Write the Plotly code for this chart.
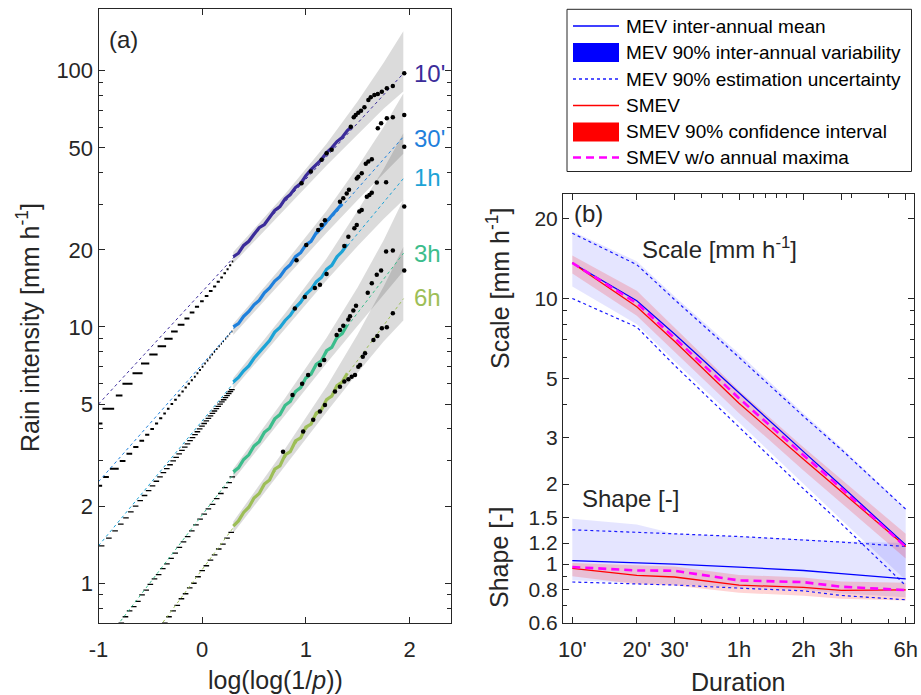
import plotly.graph_objects as go

W, H = 921, 695
def px(x): return x / W
def py(y): return 1 - y / H

AX = '#262626'
FONT = 'Liberation Sans, Arial, sans-serif'

# ================= Panel (a) data =================
dur_labels_a = ["10'", "30'", "1h", "3h", "6h"]
colors_a = ['#3b2c9a', '#1f80dc', '#1ca3d6', '#3cbd8c', '#9dbe57']

# fitted Weibull lines (dashed), endpoints
fit_x = [-1.0, 1.942]
fit_10 = [5.0, 97.7]
fit_30 = [2.49, 55.3]
fit_1h = [1.40, 38.0]
fit_3h = [0.55, 19.4]
fit_6h = [0.323, 12.9]

# confidence bands (grey)
band_x = [0.3, 0.8, 1.2, 1.5, 1.75, 1.94]
band_10_lo = [17.7, 28.8, 42.7, 56.4, 71.0, 83.0]
band_10_hi = [19.6, 33.0, 51.9, 76.0, 107.4, 142.6]
band_30_lo = [9.31, 15.5, 23.3, 31.3, 39.8, 47.4]
band_30_hi = [10.3, 17.8, 28.4, 42.2, 60.3, 81.5]
band_1h_lo = [5.71, 9.84, 15.2, 20.7, 26.4, 31.3]
band_1h_hi = [6.32, 11.3, 18.5, 28.5, 41.3, 57.0]
band_3h_lo = [2.53, 4.55, 7.21, 10.1, 13.4, 16.5]
band_3h_hi = [2.80, 5.28, 9.08, 14.3, 21.8, 31.4]
band_6h_lo = [1.57, 2.88, 4.66, 6.63, 8.77, 10.6]
band_6h_hi = [1.74, 3.35, 5.86, 9.37, 14.4, 20.5]

# ordinary events below threshold (tied values -> horizontal runs)
low10_v = [4.2, 4.8, 5.4, 6.0, 6.6, 7.2, 7.8, 8.4, 9.0, 9.6, 10.2, 10.8, 11.4, 12.0, 12.6, 13.2,
           13.8, 14.4, 15.0, 15.6, 16.2, 16.8, 17.4, 18.0]
low10_x0 = [-1.0, -0.962, -0.833, -0.769, -0.672, -0.59, -0.51, -0.43, -0.365, -0.3, -0.236, -0.171,
            -0.12, -0.07, -0.02, 0.025, 0.065, 0.105, 0.14, 0.175, 0.205, 0.235, 0.26, 0.285]
low10_x1 = [-0.962, -0.849, -0.769, -0.672, -0.575, -0.51, -0.43, -0.348, -0.285, -0.236, -0.171, -0.123,
            -0.075, -0.03, 0.015, 0.06, 0.1, 0.135, 0.17, 0.2, 0.23, 0.255, 0.28, 0.3]

low30_v = [2.4, 2.6, 2.8, 3.0, 3.2, 3.4, 3.6, 3.8, 4.0, 4.2, 4.4, 4.6, 4.8, 5.0, 5.2, 5.4, 5.6, 5.8, 6.0,
           6.2, 6.4, 6.6, 6.8, 7.0, 7.2, 7.4, 7.6, 7.8, 8.0, 8.2, 8.4, 8.6, 8.8, 9.0, 9.2, 9.4, 9.6]
low30_x0 = [-1.0, -0.955, -0.89, -0.795, -0.73, -0.665, -0.605, -0.55, -0.50, -0.455, -0.415, -0.375,
            -0.34, -0.305, -0.27, -0.235, -0.2, -0.17, -0.14, -0.11, -0.08, -0.055, -0.03, -0.005, 0.02,
            0.045, 0.068, 0.09, 0.112, 0.135, 0.158, 0.18, 0.2, 0.222, 0.242, 0.262, 0.282]
low30_x1 = [-0.965, -0.9, -0.805, -0.74, -0.675, -0.615, -0.56, -0.51, -0.465, -0.425, -0.385, -0.35,
            -0.315, -0.28, -0.245, -0.21, -0.178, -0.148, -0.118, -0.09, -0.062, -0.037, -0.012, 0.012,
            0.035, 0.06, 0.082, 0.105, 0.125, 0.148, 0.17, 0.19, 0.21, 0.232, 0.252, 0.27, 0.292]

low1h_v = [1.4, 1.5, 1.6, 1.7, 1.8, 1.9, 2.0, 2.1, 2.2, 2.3, 2.4, 2.5, 2.6, 2.7, 2.8, 2.9, 3.0, 3.1, 3.2,
           3.3, 3.4, 3.5, 3.6, 3.7, 3.8, 3.9, 4.0, 4.1, 4.2, 4.3, 4.4, 4.5, 4.6, 4.7, 4.8, 4.9, 5.0, 5.1,
           5.2, 5.3, 5.4, 5.5, 5.6, 5.7]
low1h_x = [-0.97, -0.90, -0.84, -0.785, -0.735, -0.688, -0.642, -0.598, -0.556, -0.517, -0.479, -0.442,
           -0.407, -0.374, -0.341, -0.31, -0.28, -0.251, -0.222, -0.195, -0.168, -0.142, -0.117, -0.093,
           -0.069, -0.046, -0.024, -0.002, 0.019, 0.04, 0.06, 0.08, 0.099, 0.118, 0.137, 0.155, 0.173,
           0.19, 0.207, 0.224, 0.24, 0.256, 0.272, 0.287]

low3h_x = [-0.78, -0.74, -0.70, -0.66, -0.62, -0.58, -0.54, -0.50, -0.46, -0.42, -0.38, -0.34, -0.30,
           -0.26, -0.22, -0.18, -0.14, -0.10, -0.06, -0.02, 0.02, 0.06, 0.10, 0.14, 0.18, 0.22, 0.26, 0.29]
low3h_v = [0.70, 0.74, 0.78, 0.81, 0.85, 0.90, 0.94, 0.99, 1.04, 1.08, 1.14, 1.19, 1.25, 1.31, 1.38,
           1.45, 1.52, 1.60, 1.69, 1.78, 1.86, 1.95, 2.03, 2.14, 2.24, 2.36, 2.47, 2.60]

low6h_x = [-0.36, -0.32, -0.28, -0.24, -0.20, -0.16, -0.12, -0.08, -0.04, 0.0, 0.04, 0.08, 0.12, 0.16,
           0.20, 0.24, 0.28]
low6h_v = [0.70, 0.74, 0.78, 0.82, 0.87, 0.91, 0.96, 1.00, 1.06, 1.12, 1.17, 1.23, 1.29, 1.36, 1.42,
           1.50, 1.58]

# ordinary events above threshold (coloured)
col10_x = [0.30, 0.35, 0.40, 0.45, 0.50, 0.55, 0.60, 0.65, 0.70, 0.75, 0.80, 0.85, 0.90, 0.95, 1.00,
           1.05, 1.10, 1.15, 1.20, 1.25, 1.30, 1.35, 1.40, 1.45]
col10_v = [18.8, 19.4, 20.8, 21.6, 23.0, 24.4, 25.1, 26.8, 28.5, 29.5, 31.6, 32.9, 35.0, 36.3, 38.9,
           41.1, 43.1, 45.0, 47.9, 50.0, 52.9, 54.9, 58.4, 60.8]
col30_x = [0.30, 0.35, 0.40, 0.45, 0.50, 0.55, 0.60, 0.65, 0.70, 0.75, 0.80, 0.85, 0.90, 0.95, 1.00,
           1.05, 1.10, 1.15, 1.20, 1.25, 1.30, 1.35]
col30_v = [10.0, 10.3, 11.0, 11.5, 12.2, 12.7, 13.6, 14.2, 15.1, 15.7, 16.8, 17.5, 18.8, 19.5, 20.9,
           21.6, 23.3, 24.3, 25.8, 27.3, 28.9, 30.3]
col1h_x = [0.30, 0.35, 0.40, 0.45, 0.50, 0.55, 0.60, 0.65, 0.70, 0.75, 0.80, 0.85, 0.90, 0.95, 1.00,
           1.05, 1.10, 1.15, 1.20, 1.25, 1.30, 1.35, 1.40]
col1h_v = [6.1, 6.35, 6.75, 7.05, 7.55, 7.95, 8.45, 8.85, 9.55, 9.95, 10.6, 11.1, 11.9, 12.5, 13.4,
           14.0, 15.0, 15.6, 16.8, 17.4, 18.8, 19.7, 21.0]
col3h_x = [0.30, 0.35, 0.40, 0.45, 0.50, 0.55, 0.60, 0.65, 0.70, 0.75, 0.80, 0.85, 0.90, 0.95, 1.00,
           1.05, 1.10, 1.15, 1.20, 1.25, 1.30, 1.35, 1.40]
col3h_v = [2.72, 2.82, 3.04, 3.17, 3.43, 3.57, 3.88, 4.03, 4.38, 4.55, 4.95, 5.12, 5.60, 5.80, 6.33,
           6.55, 7.15, 7.38, 8.08, 8.32, 9.10, 9.42, 10.2]
col6h_x = [0.30, 0.35, 0.40, 0.45, 0.50, 0.55, 0.60, 0.65, 0.70, 0.75, 0.80, 0.85, 0.90, 0.95, 1.00,
           1.05, 1.10, 1.15, 1.20, 1.25, 1.30, 1.35, 1.40]
col6h_v = [1.67, 1.75, 1.89, 1.98, 2.15, 2.24, 2.44, 2.53, 2.79, 2.87, 3.17, 3.26, 3.59, 3.69, 4.07,
           4.18, 4.61, 4.75, 5.21, 5.37, 5.90, 6.09, 6.6]

# annual maxima (black dots)
am10_x = [0.958, 1.048, 1.152, 1.2, 1.249, 1.433, 1.462, 1.481, 1.506, 1.532, 1.565, 1.603, 1.626,
          1.661, 1.694, 1.733, 1.781, 1.839, 1.949]
am10_v = [36.4, 40.4, 44.9, 47.6, 49.1, 60.5, 65.8, 67.1, 68.5, 69.8, 72.0, 76.8, 78.7, 80.4, 81.1,
          82.8, 85.4, 87.1, 97.7]
am30_x = [0.91, 1.004, 1.119, 1.152, 1.184, 1.329, 1.361, 1.394, 1.416, 1.491, 1.506, 1.539, 1.578,
          1.603, 1.636, 1.694, 1.726, 1.781, 1.839, 1.949]
am30_v = [18.2, 20.9, 23.9, 25.0, 26.1, 30.8, 31.8, 33.2, 34.3, 38.0, 38.6, 39.8, 43.3, 44.2, 45.1,
          59.6, 62.3, 65.2, 65.8, 67.1]
am1h_x = [0.894, 0.99, 1.087, 1.136, 1.2, 1.371, 1.41, 1.468, 1.491, 1.516, 1.539, 1.588, 1.613, 1.636,
          1.684, 1.774, 1.949]
am1h_v = [11.8, 13.1, 14.2, 14.6, 16.1, 20.7, 22.5, 24.3, 25.0, 28.2, 28.6, 32.2, 32.7, 33.4, 36.6,
          36.7, 50.5]
am3h_x = [0.871, 0.964, 1.022, 1.136, 1.177, 1.297, 1.329, 1.361, 1.41, 1.426, 1.458, 1.484, 1.597,
          1.636, 1.684, 1.726, 1.774, 1.839, 1.949]
am3h_v = [5.43, 6.0, 6.5, 7.11, 7.43, 9.31, 9.73, 10.1, 10.7, 11.0, 11.6, 12.1, 13.6, 14.8, 16.0, 16.6,
          19.7, 19.9, 29.5]
am6h_x = [0.78, 0.974, 1.071, 1.136, 1.184, 1.281, 1.329, 1.371, 1.41, 1.442, 1.474, 1.506, 1.523,
          1.549, 1.571, 1.652, 1.69, 1.733, 1.781, 1.839, 1.949]
am6h_v = [3.26, 3.91, 4.34, 4.68, 4.96, 5.6, 5.85, 6.12, 6.25, 6.4, 6.5, 7.0, 7.11, 7.66, 7.89, 8.9,
          9.22, 9.88, 9.97, 11.3, 16.6]

# axis ticks panel (a)
a_xticks = [-1, 0, 1, 2]
a_xticktext = ['-1', '0', '1', '2']
a_yticks = [1, 2, 5, 10, 20, 50, 100]
a_yminor = [0.8, 0.9, 3, 4, 6, 7, 8, 9, 30, 40, 60, 70, 80, 90]

# ================= Panel (b) data =================
dur_b = [10, 20, 30, 60, 120, 180, 360]
dur_b_text = ["10'", "20'", "30'", "1h", "2h", "3h", "6h"]
dur_b_minor = [40, 50, 70, 80, 90, 100, 200, 300]

mev_scale_mean = [13.6, 9.8, 7.35, 4.4, 2.65, 1.97, 1.18]
mev_scale_var_lo = [11.1, 8.0, 5.8, 3.4, 2.0, 1.47, 0.87]
mev_scale_var_hi = [17.9, 13.8, 10.2, 6.2, 3.7, 2.75, 1.62]
mev_scale_unc_lo = [10.0, 7.8, 5.6, 3.27, 1.92, 1.42, 0.83]
mev_scale_unc_hi = [17.6, 13.4, 9.9, 6.0, 3.6, 2.7, 1.61]
smev_scale = [13.6, 9.3, 6.9, 4.03, 2.48, 1.88, 1.165]
smev_scale_lo = [12.4, 8.6, 6.3, 3.7, 2.25, 1.7, 1.05]
smev_scale_hi = [14.5, 10.7, 7.8, 4.5, 2.75, 2.08, 1.3]
smev_noam_scale = [13.6, 9.6, 7.1, 4.21, 2.57, 1.93, 1.16]

mev_shape_mean = [1.03, 1.01, 1.0, 0.974, 0.946, 0.92, 0.88]
mev_shape_var_lo = [0.87, 0.85, 0.84, 0.82, 0.80, 0.775, 0.75]
mev_shape_var_hi = [1.48, 1.41, 1.30, 1.27, 1.24, 1.22, 1.20]
mev_shape_unc_lo = [0.856, 0.841, 0.834, 0.812, 0.793, 0.762, 0.734]
mev_shape_unc_hi = [1.346, 1.32, 1.30, 1.27, 1.234, 1.21, 1.165]
smev_shape = [0.963, 0.906, 0.894, 0.833, 0.817, 0.796, 0.80]
smev_shape_lo = [0.90, 0.84, 0.83, 0.78, 0.76, 0.74, 0.73]
smev_shape_hi = [1.01, 0.99, 0.98, 0.91, 0.89, 0.86, 0.85]
smev_noam_shape = [0.975, 0.946, 0.944, 0.868, 0.855, 0.822, 0.798]

b_yticks = [0.6, 0.8, 1, 1.2, 1.5, 2, 3, 5, 10, 20]
b_yticktext = ['0.6', '0.8', '1', '1.2', '1.5', '2', '3', '5', '10', '20']
b_yminor = [0.7, 0.9, 4, 6, 7, 8, 9]

legend_labels = ['MEV inter-annual mean', 'MEV 90% inter-annual variability',
                 'MEV 90% estimation uncertainty', 'SMEV', 'SMEV 90% confidence interval',
                 'SMEV w/o annual maxima']

# ================= Build figure =================
fig = go.Figure()

def band(x, lo, hi, color, xa, ya):
    fig.add_trace(go.Scatter(x=list(x) + list(x)[::-1], y=list(lo) + list(hi)[::-1],
                             fill='toself', fillcolor=color, line=dict(width=0),
                             mode='lines', hoverinfo='skip', showlegend=False,
                             xaxis=xa, yaxis=ya))

def segs(x0, x1, v):
    xs, ys = [], []
    for a, b, c in zip(x0, x1, v):
        xs += [a, b, None]
        ys += [c, c, None]
    return xs, ys

GREY = 'rgba(0,0,0,0.14)'
bands_a = [(band_10_lo, band_10_hi), (band_30_lo, band_30_hi), (band_1h_lo, band_1h_hi),
           (band_3h_lo, band_3h_hi), (band_6h_lo, band_6h_hi)]
for lo, hi in bands_a:
    band(band_x, lo, hi, GREY, 'x', 'y')

for x0, x1, v in [(low10_x0, low10_x1, low10_v), (low30_x0, low30_x1, low30_v)]:
    xs, ys = segs(x0, x1, v)
    fig.add_trace(go.Scatter(x=xs, y=ys, mode='lines', line=dict(color='black', width=2),
                             showlegend=False, xaxis='x', yaxis='y'))
for xx, vv in [(low1h_x, low1h_v), (low3h_x, low3h_v), (low6h_x, low6h_v)]:
    fig.add_trace(go.Scatter(x=xx, y=vv, mode='markers',
                             marker=dict(symbol='line-ew', size=4, line=dict(color='black', width=1.3)),
                             showlegend=False, xaxis='x', yaxis='y'))

cols = [(col10_x, col10_v), (col30_x, col30_v), (col1h_x, col1h_v), (col3h_x, col3h_v), (col6h_x, col6h_v)]
for (xx, vv), c in zip(cols, colors_a):
    fig.add_trace(go.Scatter(x=xx, y=vv, mode='lines', line=dict(color=c, width=3.2),
                             showlegend=False, xaxis='x', yaxis='y'))

fits = [fit_10, fit_30, fit_1h, fit_3h, fit_6h]
for f, c in zip(fits, colors_a):
    fig.add_trace(go.Scatter(x=fit_x, y=f, mode='lines', line=dict(color=c, width=1, dash='3px,3px'),
                             showlegend=False, xaxis='x', yaxis='y'))

ams = [(am10_x, am10_v), (am30_x, am30_v), (am1h_x, am1h_v), (am3h_x, am3h_v), (am6h_x, am6h_v)]
for xx, vv in ams:
    fig.add_trace(go.Scatter(x=xx, y=vv, mode='markers', marker=dict(color='black', size=4.5),
                             showlegend=False, xaxis='x', yaxis='y'))

# ---- panel (b) ----
BLUEF = 'rgba(0,0,255,0.10)'
REDF = 'rgba(255,0,0,0.17)'
band(dur_b, mev_scale_var_lo, mev_scale_var_hi, BLUEF, 'x2', 'y2')
band(dur_b, mev_shape_var_lo, mev_shape_var_hi, BLUEF, 'x2', 'y2')
band(dur_b, smev_scale_lo, smev_scale_hi, REDF, 'x2', 'y2')
band(dur_b, smev_shape_lo, smev_shape_hi, REDF, 'x2', 'y2')

for s in [mev_scale_unc_lo, mev_scale_unc_hi, mev_shape_unc_lo, mev_shape_unc_hi]:
    fig.add_trace(go.Scatter(x=dur_b, y=s, mode='lines',
                             line=dict(color='#1a1aff', width=1.2, dash='3px,3px'),
                             showlegend=False, xaxis='x2', yaxis='y2'))
for s in [mev_scale_mean, mev_shape_mean]:
    fig.add_trace(go.Scatter(x=dur_b, y=s, mode='lines', line=dict(color='#0000ff', width=1.3),
                             showlegend=False, xaxis='x2', yaxis='y2'))
for s in [smev_scale, smev_shape]:
    fig.add_trace(go.Scatter(x=dur_b, y=s, mode='lines', line=dict(color='#ff0000', width=1.3),
                             showlegend=False, xaxis='x2', yaxis='y2'))
for s in [smev_noam_scale, smev_noam_shape]:
    fig.add_trace(go.Scatter(x=dur_b, y=s, mode='lines',
                             line=dict(color='#ff00ff', width=2.6, dash='8px,5px'),
                             showlegend=False, xaxis='x2', yaxis='y2'))

# ================= Axes =================
def axstyle(size):
    return dict(showline=True, linecolor=AX, linewidth=1, mirror='ticks', ticks='inside',
                ticklen=6, tickcolor=AX, tickwidth=1, showgrid=False, zeroline=False,
                tickfont=dict(family=FONT, size=size, color=AX), automargin=False)

fig.update_layout(
    width=W, height=H, autosize=False, margin=dict(l=0, r=0, t=0, b=0, pad=0),
    paper_bgcolor='white', plot_bgcolor='white', showlegend=False,
    font=dict(family=FONT, color=AX),
    xaxis=dict(domain=[px(98.5), px(451)], range=[-1, 2.4], tickmode='array',
               tickvals=a_xticks, ticktext=a_xticktext, anchor='y', ticklabelstandoff=7,
               **axstyle(22)),
    yaxis=dict(domain=[py(622.7), py(9.3)], type='log', range=[-0.154, 2.2396], tickmode='array',
               tickvals=a_yticks, ticktext=[str(v) for v in a_yticks], anchor='x',
               minor=dict(tickmode='array', tickvals=a_yminor, ticks='inside', ticklen=4,
                          tickcolor=AX), **axstyle(22)),
    xaxis2=dict(domain=[px(563), px(914)], type='log', range=[0.9566, 2.595], tickmode='array',
                tickvals=dur_b, ticktext=dur_b_text, anchor='y2', ticklabelstandoff=7,
                minor=dict(tickmode='array', tickvals=dur_b_minor, ticks='inside', ticklen=4,
                           tickcolor=AX), **axstyle(22)),
    yaxis2=dict(domain=[py(623), py(193.5)], type='log', range=[-0.2218, 1.395], tickmode='array',
                tickvals=b_yticks, ticktext=b_yticktext, anchor='x2',
                minor=dict(tickmode='array', tickvals=b_yminor, ticks='inside', ticklen=4,
                           tickcolor=AX), **axstyle(21)),
)

ann = []
def text(x, y, t, size, color=AX, xanchor='center', yanchor='middle', angle=0):
    ann.append(dict(x=px(x), y=py(y), xref='paper', yref='paper', text=t, showarrow=False,
                    xanchor=xanchor, yanchor=yanchor, textangle=angle,
                    font=dict(family=FONT, size=size, color=color)))

text(107, 40, '(a)', 24, xanchor='left')
text(572, 214, '(b)', 24, xanchor='left')
text(719, 248, 'Scale [mm h<sup>-1</sup>]', 24)
text(630, 499, 'Shape [-]', 24)
label_y = [74, 138, 178, 253, 298]
for lab, c, yy in zip(dur_labels_a, colors_a, label_y):
    text(412, yy, lab, 24, color=c, xanchor='left')
text(28, 328, 'Rain intensity [mm h<sup>-1</sup>]', 25, angle=-90)
text(275, 680, 'log(log(1/<i>p</i>))', 25)
text(738, 682, 'Duration', 25)
text(498, 289, 'Scale [mm h<sup>-1</sup>]', 25, angle=-90)
text(499, 558, 'Shape [-]', 25, angle=-90)

# ---- manual legend ----
shapes = []
shapes.append(dict(type='rect', xref='paper', yref='paper', x0=px(567), x1=px(911.5), y0=py(171.5),
                   y1=py(9.3), line=dict(color=AX, width=1), fillcolor='white', layer='above'))
rows = [26, 52.5, 79, 105.5, 132, 157.5]
sx0, sx1 = 573, 619
def lseg(y, color, width, dash='solid'):
    shapes.append(dict(type='line', xref='paper', yref='paper', x0=px(sx0), x1=px(sx1), y0=py(y),
                       y1=py(y), line=dict(color=color, width=width, dash=dash), layer='above'))
def lrect(y, color):
    shapes.append(dict(type='rect', xref='paper', yref='paper', x0=px(sx0), x1=px(sx1),
                       y0=py(y + 9.5), y1=py(y - 9.5), line=dict(width=0), fillcolor=color,
                       layer='above'))
lseg(rows[0], '#0000ff', 1.4)
lrect(rows[1], '#0000ff')
lseg(rows[2], '#1a1aff', 1.3, '3px,3px')
lseg(rows[3], '#ff0000', 1.4)
lrect(rows[4], '#ff0000')
lseg(rows[5], '#ff00ff', 2.6, '8px,5px')
for lab, yy in zip(legend_labels, rows):
    text(624, yy, lab, 19, color='black', xanchor='left')

fig.update_layout(annotations=ann, shapes=shapes)
fig.write_html('out.html', config={'responsive': False, 'displayModeBar': False},
               post_script="document.body.style.margin='0';document.body.style.padding='0';"
                           "document.body.style.overflow='hidden';"
                           "document.documentElement.style.overflow='hidden';")
